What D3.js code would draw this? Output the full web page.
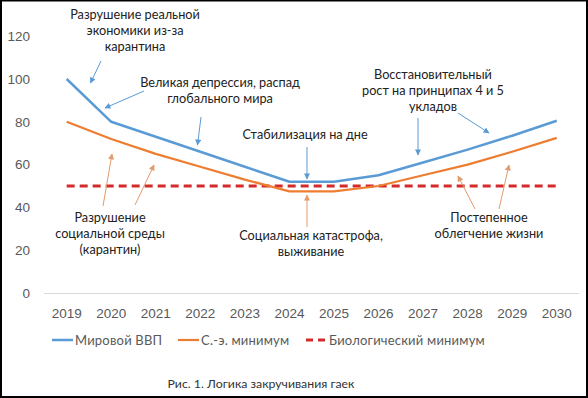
<!DOCTYPE html>
<html><head><meta charset="utf-8">
<script src="https://cdn.jsdelivr.net/npm/d3@7"></script>
<style>
body{margin:0;background:#fff}
svg{display:block;font-family:Lato,'Open Sans',sans-serif}
.tick text{fill:#595959;font-size:13.5px}
.ann{fill:#222;font-size:12.7px}
.leg{fill:#595959;font-size:13px;letter-spacing:0.2px}
</style></head>
<body><div id="chart"></div>
<script>
const years=['2019','2020','2021','2022','2023','2024','2025','2026','2027','2028','2029','2030'];
const gdp=[100,80,73,66,59,52,52,55,61,67,73.5,80.5];
const socMin=[80,72,65,59,53,47.5,47.5,50,55,60,66,72.5];
const bioMin=[50,50,50,50,50,50,50,50,50,50,50,50];
const yTicks=[0,20,40,60,80,100,120];
const seriesNames=['Мировой ВВП','С.-э. минимум','Биологический минимум'];
const caption='Рис. 1. Логика закручивания гаек';

const W=588,H=398;
const svg=d3.select('#chart').append('svg').attr('width',W).attr('height',H);

const defs=svg.append('defs');
const mk=(id,c)=>defs.append('marker').attr('id',id).attr('viewBox','0 0 10 10')
  .attr('refX',9).attr('refY',5).attr('markerWidth',7).attr('markerHeight',6)
  .attr('orient','auto').attr('markerUnits','userSpaceOnUse')
  .append('path').attr('d','M0,0L10,5L0,10z').attr('fill',c);
mk('ab','#5b9bd5');mk('ao','#e39a6c');

const x=d3.scaleBand().domain(years).range([44.4,579]),
      y=d3.scaleLinear().domain([0,120]).range([293,36.2]);
const cx=d=>x(d)+x.bandwidth()/2;

svg.append('line').attr('x1',44).attr('x2',579).attr('y1',293.5).attr('y2',293.5)
  .attr('stroke','#d9d9d9').attr('stroke-width',1);

svg.append('g').attr('transform','translate(30,0)')
  .call(d3.axisLeft(y).tickValues(yTicks).tickSize(0).tickPadding(0))
  .call(g=>g.select('.domain').remove())
  .selectAll('text').attr('font-family',null);

svg.append('g').attr('transform','translate(0,308)')
  .call(d3.axisBottom(x).tickSize(0).tickPadding(0))
  .call(g=>g.select('.domain').remove())
  .selectAll('text').attr('dy','0.71em').attr('font-family',null);
svg.selectAll('.tick text').attr('font-size',null);

const line=d3.line().x((d,i)=>cx(years[i])).y(d=>y(d));
svg.append('path').datum(bioMin).attr('d',line).attr('fill','none')
  .attr('stroke','#d42a2a').attr('stroke-width',2.8).attr('stroke-dasharray','8,5');
svg.append('path').datum(socMin).attr('d',line).attr('fill','none')
  .attr('stroke','#ed7d31').attr('stroke-width',2.2).attr('stroke-linejoin','round');
svg.append('path').datum(gdp).attr('d',line).attr('fill','none')
  .attr('stroke','#5b9bd5').attr('stroke-width',2.5).attr('stroke-linejoin','round');

// annotations
const notes=[
  {x:135,y:19,lines:['Разрушение реальной','экономики из-за','карантина']},
  {x:220,y:87,lines:['Великая депрессия, распад','глобального мира']},
  {x:305,y:139,lines:['Стабилизация на дне']},
  {x:433,y:79,lines:['Восстановительный','рост на принципах 4 и 5','укладов']},
  {x:110,y:222,lines:['Разрушение','социальной среды','(карантин)']},
  {x:311,y:240,lines:['Социальная катастрофа,','выживание']},
  {x:489,y:222,lines:['Постепенное','облегчение жизни']}
];
notes.forEach(n=>{
  const t=svg.append('text').attr('class','ann').attr('text-anchor','middle');
  n.lines.forEach((s,i)=>t.append('tspan').attr('x',n.x).attr('y',n.y+i*15.8).text(s));
});

const arrows=[
  [101,61,90.5,83,'b'],[144,91,105,108,'b'],[201,117,197.5,145,'b'],
  [307,147,307,179,'b'],[418,118,418,155,'b'],[458,113,489,133,'b'],
  [103,206,112,154,'o'],[135,205,154,165,'o'],[307,227,307,195,'o'],
  [475,209,458,176,'o'],[499,209,509,165,'o']
];
svg.selectAll('.arr').data(arrows).enter().append('line').attr('class','arr')
  .attr('x1',d=>d[0]).attr('y1',d=>d[1]).attr('x2',d=>d[2]).attr('y2',d=>d[3])
  .attr('stroke',d=>d[4]==='b'?'#5b9bd5':'#e39a6c').attr('stroke-width',1)
  .attr('marker-end',d=>d[4]==='b'?'url(#ab)':'url(#ao)');

// legend
const legend=svg.append('g').attr('transform','translate(0,340)');
const legX=[52,178,306];
const legS=[{c:'#5b9bd5',w:2.5,da:null},{c:'#ed7d31',w:2.2,da:null},{c:'#d42a2a',w:2.8,da:'7,5'}];
seriesNames.forEach((s,i)=>{
  legend.append('line').attr('x1',legX[i]).attr('x2',legX[i]+21).attr('y1',0).attr('y2',0)
    .attr('stroke',legS[i].c).attr('stroke-width',legS[i].w).attr('stroke-dasharray',legS[i].da);
  legend.append('text').attr('class','leg').attr('x',legX[i]+23).attr('y',4.5).text(s);
});

svg.append('text').attr('x',261).attr('y',388).attr('text-anchor','middle')
  .attr('font-size',12.3).attr('fill','#333').text(caption);

svg.append('rect').attr('x',1).attr('y',0.5).attr('width',586).attr('height',396.5)
  .attr('fill','none').attr('stroke','#000').attr('stroke-width',2);
</script></body></html>
